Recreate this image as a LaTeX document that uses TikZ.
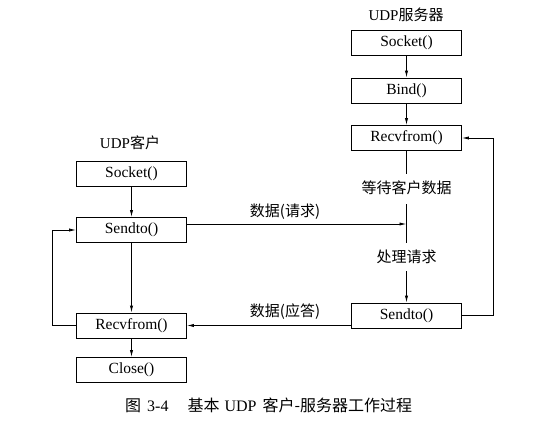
\documentclass[tikz,border=0pt]{standalone}
\usepackage{fontspec}
\setmainfont{Liberation Serif}
\newfontfamily\cjk{Noto Sans CJK SC}
\usetikzlibrary{arrows.meta}
\begin{document}
\begin{tikzpicture}[x=1pt,y=-1pt,
  box/.style={draw, line width=0.8pt, minimum width=110pt, minimum height=25pt, inner sep=0pt, font=\fontsize{15.5}{17}\selectfont},
  lbl/.style={inner sep=0pt, font=\fontsize{15}{17}\selectfont},
  arr/.style={line width=0.8pt, -{Latex[length=7pt,width=3.2pt]}},
  ln/.style={line width=0.8pt}]
\useasboundingbox (0,0) rectangle (540,428);
% server
\node[lbl] (stitle) at (406,15) {UDP{\cjk 服务器}};
\node[box] (ssock) at (406.5,43) {Socket()};
\node[box] (sbind) at (406.5,90.5) {Bind()};
\node[box] (srecv) at (406.5,138) {Recvfrom()};
\node[lbl] (wait) at (406.5,188) {\cjk 等待客户数据};
\node[lbl] (proc) at (406.5,257) {\cjk 处理请求};
\node[box] (ssend) at (406.5,315.5) {Sendto()};
% client
\node[lbl] (ctitle) at (130,143) {UDP{\cjk 客户}};
\node[box] (csock) at (131.5,173.5) {Socket()};
\node[box] (csend) at (131.5,230) {Sendto()};
\node[box] (crecv) at (131.5,325.5) {Recvfrom()};
\node[box] (cclose) at (131.5,370) {Close()};
% labels
\node[lbl] (req) at (285,212) {{\cjk 数据(请求)}};
\node[lbl] (rep) at (285,312) {{\cjk 数据(应答)}};
% coordinates
\coordinate (w1) at (406.5,174);
\coordinate (w2) at (406.5,204);
\coordinate (w3) at (406.5,243);
\coordinate (hit) at (406.5,224);
\coordinate (p1) at (406.5,271);
\coordinate (r1) at (493,315.5);
\coordinate (r2) at (493,138);
\coordinate (l1) at (52,325.5);
\coordinate (l2) at (52,230);
% server connectors
\draw[arr] (ssock) -- (sbind);
\draw[arr] (sbind) -- (srecv);
\draw[ln] (srecv.south) -- (w1);
\draw[ln] (w2) -- (w3);
\draw[arr] (p1) -- (ssend.north);
\draw[arr] (ssend.east) -- (r1) -- (r2) -- (srecv.east);
% client connectors
\draw[arr] (csock) -- (csend);
\draw[arr] (csend) -- (crecv);
\draw[arr] (crecv) -- (cclose);
\draw[arr] (crecv.west) -- (l1) -- (l2) -- (csend.west);
% messages
\draw[arr] (csend.east |- hit) -- (hit);
\draw[arr] (ssend.west |- crecv.east) -- (crecv.east);
% caption
\node[lbl, anchor=west, font=\fontsize{16}{18}\selectfont] (cap) at (125,405) {{\cjk 图}\hspace{6pt}3-4\hspace{19pt}{\cjk 基本}\hspace{5pt}UDP\hspace{6pt}{\cjk 客户-服务器工作过程}};
\end{tikzpicture}
\end{document}
